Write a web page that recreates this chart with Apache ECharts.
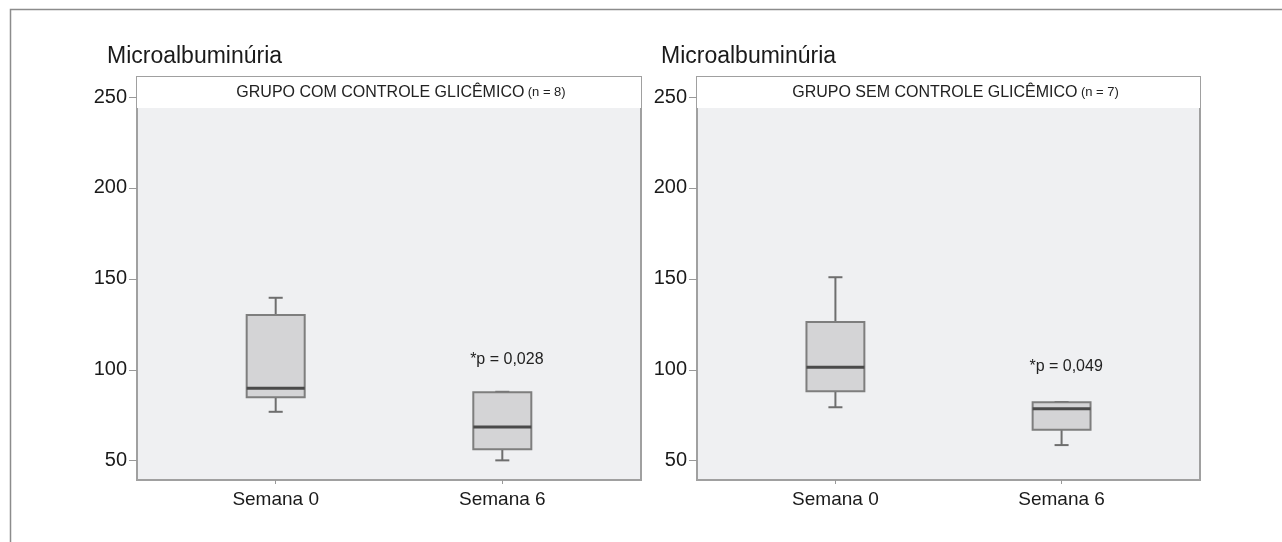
<!DOCTYPE html>
<html>
<head>
<meta charset="utf-8">
<title>Microalbuminúria</title>
<script src="https://cdn.jsdelivr.net/npm/echarts@6/dist/echarts.min.js"></script>
<style>
  html, body { margin: 0; padding: 0; background: #fff; }
  #chart { width: 1282px; height: 542px; }
</style>
</head>
<body>
<div id="chart"></div>
<script>
// data
const categories = ['Semana 0', 'Semana 6']
const yTicks = [50, 100, 150, 200, 250]
const yName = 'Microalbuminúria'
const groupTitles = ['GRUPO COM CONTROLE GLICÊMICO', 'GRUPO SEM CONTROLE GLICÊMICO']
const groupN = ['(n = 8)', '(n = 7)']
// [min, Q1, median, Q3, max] per week
const boxesCom = [
  [76.9, 84.9, 89.8, 130.1, 139.6],
  [50.2, 56.3, 68.5, 87.6, 87.9]
]
const boxesSem = [
  [79.4, 88.2, 101.4, 126.3, 150.9],
  [58.6, 67.1, 78.6, 82.1, 82.3]
]
const pValues = ['*p = 0,028', '*p = 0,049']

const FONT = '"Liberation Sans", Arial, sans-serif'
const BOX_W = 0.256
const CAP_W = 0.062

const chart = echarts.init(document.getElementById('chart'))

function renderBox(params, api) {
  const x = api.value(0)
  const lo = api.coord([x, api.value(1)])
  const q1 = api.coord([x, api.value(2)])
  const med = api.coord([x, api.value(3)])
  const q3 = api.coord([x, api.value(4)])
  const hi = api.coord([x, api.value(5)])
  const half = api.size([BOX_W, 0])[0] / 2
  const cap = api.size([CAP_W, 0])[0] / 2
  const cx = lo[0]
  const whisker = { stroke: '#6e6e6e', lineWidth: 2 }
  return {
    type: 'group',
    children: [
      { type: 'line', shape: { x1: cx, y1: lo[1], x2: cx, y2: q1[1] }, style: whisker },
      { type: 'line', shape: { x1: cx, y1: q3[1], x2: cx, y2: hi[1] }, style: whisker },
      { type: 'line', shape: { x1: cx - cap, y1: lo[1], x2: cx + cap, y2: lo[1] }, style: whisker },
      { type: 'line', shape: { x1: cx - cap, y1: hi[1], x2: cx + cap, y2: hi[1] }, style: whisker },
      {
        type: 'rect',
        shape: { x: cx - half, y: q3[1], width: half * 2, height: q1[1] - q3[1] },
        style: { fill: '#d4d4d6', stroke: '#7e7e7e', lineWidth: 2 }
      },
      { type: 'line', shape: { x1: cx - half, y1: med[1], x2: cx + half, y2: med[1] }, style: { stroke: '#4a4a4a', lineWidth: 3 } }
    ]
  }
}

function makeXAxis(idx) {
  return {
    type: 'value',
    gridIndex: idx,
    min: -0.612,
    max: 1.612,
    splitLine: { show: false },
    axisLine: { show: false, onZero: false },
    axisTick: { show: true, customValues: [0, 1], length: 4, lineStyle: { color: '#999' } },
    axisLabel: {
      customValues: [0, 1],
      formatter: v => categories[Math.round(v)],
      margin: 10,
      fontFamily: FONT,
      fontSize: 19,
      color: '#1a1a1a'
    }
  }
}

function makeYAxis(idx) {
  return {
    type: 'value',
    gridIndex: idx,
    min: 39.4,
    max: 261,
    splitLine: { show: false },
    axisLine: { show: false, onZero: false },
    axisTick: { show: true, customValues: yTicks, length: 8, lineStyle: { color: '#999' } },
    axisLabel: {
      customValues: yTicks,
      margin: 10,
      fontFamily: FONT,
      fontSize: 20,
      color: '#1a1a1a'
    }
  }
}

function makeSeries(idx, boxes, pText, pY, titleShift) {
  return {
    type: 'custom',
    xAxisIndex: idx,
    yAxisIndex: idx,
    renderItem: renderBox,
    data: boxes.map((b, i) => [i].concat(b)),
    markArea: {
      silent: true,
      itemStyle: { color: '#ffffff' },
      label: {
        show: true,
        position: 'inside',
        offset: [titleShift, 0],
        formatter: '{a|' + groupTitles[idx] + '} {b|' + groupN[idx] + '}',
        rich: {
          a: { fontFamily: FONT, fontSize: 16, color: '#222' },
          b: { fontFamily: FONT, fontSize: 13, color: '#222' }
        }
      },
      data: [[{ yAxis: 244 }, { yAxis: 261 }]]
    },
    markPoint: {
      silent: true,
      symbol: 'circle',
      symbolSize: 0,
      label: {
        show: true,
        position: 'inside',
        formatter: pText,
        fontFamily: FONT,
        fontSize: 16,
        color: '#222'
      },
      data: [{ coord: [1.02, pY] }]
    }
  }
}

const gridBase = {
  top: 77,
  height: 403,
  width: 504,
  show: true,
  backgroundColor: '#eff0f2',
  borderColor: '#a0a0a0',
  borderWidth: 2
}

const titleStyle = { fontFamily: FONT, fontSize: 23, fontWeight: 'normal', color: '#1a1a1a' }

const option = {
  animation: false,
  title: [
    { text: yName, left: 107, top: 45, padding: 0, textStyle: titleStyle },
    { text: yName, left: 661, top: 45, padding: 0, textStyle: titleStyle }
  ],
  graphic: [
    {
      type: 'rect',
      silent: true,
      shape: { x: 10.5, y: 9.5, width: 1400, height: 700 },
      style: { fill: 'none', stroke: '#8c8c8c', lineWidth: 1.5 }
    }
  ],
  grid: [
    Object.assign({}, gridBase, { left: 137 }),
    Object.assign({}, gridBase, { left: 697, width: 503 })
  ],
  xAxis: [makeXAxis(0), makeXAxis(1)],
  yAxis: [makeYAxis(0), makeYAxis(1)],
  series: [
    makeSeries(0, boxesCom, pValues[0], 105.4, 12),
    makeSeries(1, boxesSem, pValues[1], 101.5, 7)
  ]
}

chart.setOption(option)
</script>
</body>
</html>
